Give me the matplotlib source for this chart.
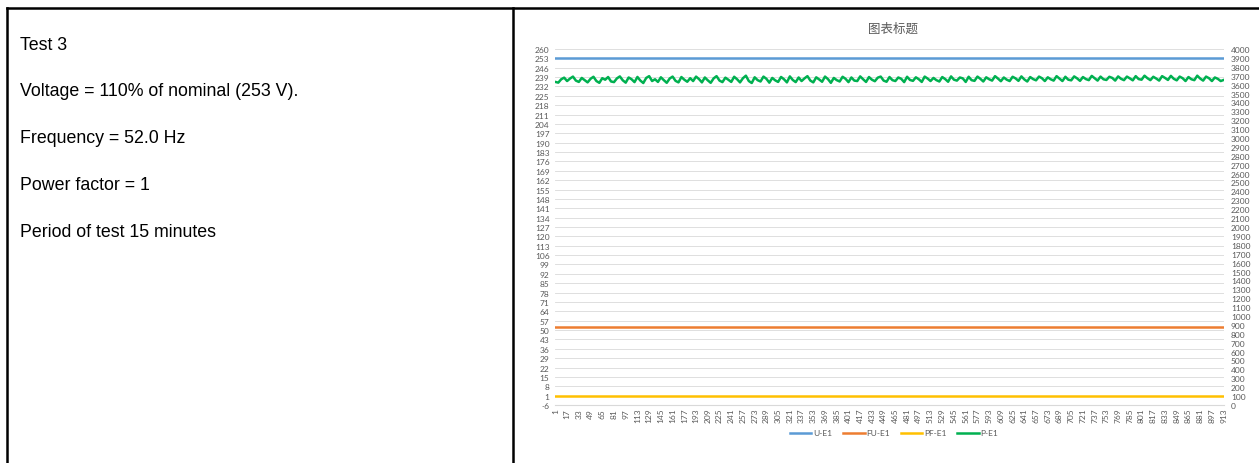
import numpy as np
import matplotlib.pyplot as plt

plt.rcParams["axes.unicode_minus"] = False

# samples 1..913 (one per second, 15 min test)
n_points = 913
x = np.arange(1, n_points + 1)

u_e1 = np.full(n_points, 253.0)   # voltage, V
fu_e1 = np.full(n_points, 52.0)   # frequency, Hz
pf_e1 = np.full(n_points, 1.0)    # power factor

# power every 4th sample, W (secondary axis)
p_idx = np.arange(1, n_points + 1, 4)
p_e1 = [
    3630, 3622, 3660, 3678, 3640, 3668, 3690, 3645, 3630, 3675, 3650, 3625,
    3665, 3688, 3640, 3620, 3672, 3655, 3685, 3635, 3628, 3670, 3692, 3648,
    3622, 3680, 3660, 3628, 3686, 3645, 3618, 3675, 3695, 3640, 3660, 3630,
    3682, 3650, 3620, 3668, 3690, 3642, 3625, 3685, 3655, 3632, 3672, 3640,
    3690, 3662, 3625, 3680, 3648, 3620, 3670, 3695, 3645, 3628, 3678, 3655,
    3630, 3688, 3660, 3625, 3672, 3700, 3640, 3618, 3682, 3650, 3635, 3690,
    3665, 3622, 3675, 3648, 3630, 3686, 3660, 3625, 3692, 3652, 3628, 3680,
    3640, 3670, 3695, 3645, 3625, 3682, 3658, 3632, 3690, 3662, 3620, 3675,
    3650, 3635, 3688, 3665, 3628, 3680, 3645, 3640, 3692, 3660, 3630, 3685,
    3655, 3638, 3678, 3690, 3645, 3632, 3685, 3650, 3640, 3680, 3665, 3628,
    3688, 3652, 3642, 3682, 3660, 3630, 3690, 3668, 3640, 3675, 3650, 3635,
    3685, 3662, 3632, 3692, 3655, 3645, 3680, 3670, 3630, 3688, 3650, 3642,
    3690, 3665, 3635, 3682, 3660, 3645, 3695, 3668, 3638, 3680, 3655, 3640,
    3688, 3670, 3642, 3692, 3658, 3635, 3685, 3662, 3648, 3690, 3672, 3640,
    3682, 3660, 3645, 3695, 3668, 3640, 3688, 3655, 3648, 3692, 3670, 3642,
    3685, 3662, 3650, 3698, 3672, 3645, 3690, 3660, 3652, 3688, 3675, 3645,
    3692, 3665, 3650, 3690, 3670, 3648, 3695, 3662, 3655, 3700, 3672, 3650,
    3688, 3668, 3645, 3695, 3675, 3652, 3698, 3665, 3648, 3690, 3672, 3640,
    3685, 3660, 3650, 3700, 3668, 3645, 3690, 3672, 3640, 3680, 3665, 3640,
    3652,
]

left_ticks = np.arange(-6, 261, 7)
right_ticks = np.arange(0, 4001, 100)
x_ticks = np.arange(1, n_points + 1, 16)

notes = [
    "Test 3",
    "Voltage = 110% of nominal (253 V).",
    "Frequency = 52.0 Hz",
    "Power factor = 1",
    "Period of test 15 minutes",
]

W, H = 1259, 464
fig = plt.figure(figsize=(W / 100, H / 100), dpi=100)

# overlay in pixel coords for the table cell borders and the notes
bg = fig.add_axes([0, 0, 1, 1])
bg.set_xlim(0, W)
bg.set_ylim(H, 0)
bg.axis("off")
bg.plot([7, W], [9, 9], color="black", lw=1.8)
bg.plot([7, 7], [9, H], color="black", lw=1.8)
bg.plot([513, 513], [9, H], color="black", lw=1.8)
for i, t in enumerate(notes):
    bg.text(20, 45 + i * 47, t, fontsize=12.8, family="Liberation Sans",
            va="center", ha="left", color="black")

txt = "#595959"
grid = "#D9D9D9"
cfont = "Lato"

ax = fig.add_axes([555 / W, 1 - 406 / H, (1224 - 555) / W, (406 - 50) / H])
ax.plot(x, u_e1, color="#5B9BD5", lw=1.8, label="U-E1")
ax.plot(x, fu_e1, color="#ED7D31", lw=1.8, label="FU-E1")
ax.plot(x, pf_e1, color="#FFC000", lw=1.8, label="PF-E1")
ax.set_ylim(-6, 260)
ax.set_yticks(left_ticks)
ax.set_xlim(0.5, n_points + 0.5)
ax.set_xticks(x_ticks)
ax.set_xticklabels([str(v) for v in x_ticks], rotation=90)
ax.grid(axis="y", color=grid, lw=0.6)
ax.set_axisbelow(True)
for s in ["top", "left", "right"]:
    ax.spines[s].set_visible(False)
ax.spines["bottom"].set_color(grid)
ax.tick_params(axis="y", length=0, pad=4, labelsize=6, labelcolor=txt)
ax.tick_params(axis="x", length=0, pad=2, labelsize=6, labelcolor=txt)
for lbl in ax.get_xticklabels() + ax.get_yticklabels():
    lbl.set_family(cfont)

ax2 = ax.twinx()
ax2.plot(p_idx, p_e1, color="#00B050", lw=1.8, label="P-E1")
ax2.set_ylim(0, 4000)
ax2.set_yticks(right_ticks)
for s in ["top", "left", "right", "bottom"]:
    ax2.spines[s].set_visible(False)
ax2.tick_params(axis="y", length=0, pad=5, labelsize=6, labelcolor=txt)
for lbl in ax2.get_yticklabels():
    lbl.set_family(cfont)

fig.text(893 / W, 1 - 29 / H, "图表标题", ha="center", va="center", fontsize=9,
         color=txt, family=["Noto Sans CJK SC", "DejaVu Sans"])

handles = ax.get_lines()[:3] + ax2.get_lines()[:1]
leg = fig.legend(handles, [h.get_label() for h in handles], loc="center",
                 bbox_to_anchor=(894 / W, 1 - 434 / H), ncol=4, frameon=False,
                 prop={"family": cfont, "size": 6}, handlelength=2.6,
                 columnspacing=1.3, handletextpad=0.2)
for t in leg.get_texts():
    t.set_color(txt)

fig.savefig("out.png", dpi=100)
